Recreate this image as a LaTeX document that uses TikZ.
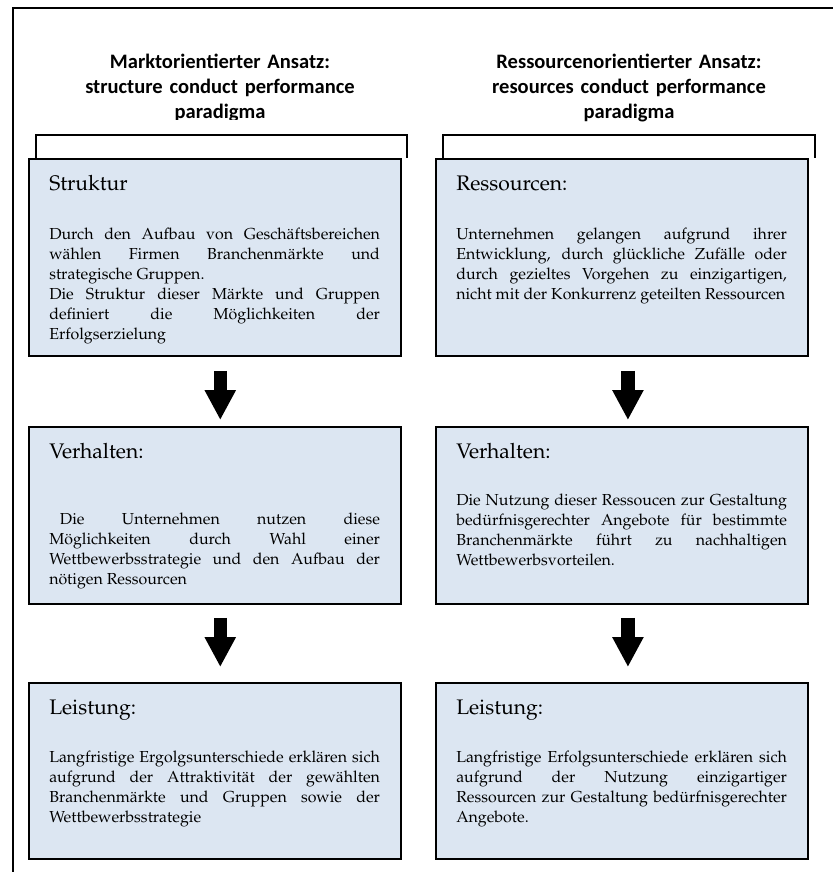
\documentclass[tikz,border=0pt]{standalone}
\usepackage[T1]{fontenc}
\usepackage{fontspec}
\usepackage{tikz}
\usetikzlibrary{arrows.meta,positioning}
\newfontfamily\headfont{Carlito}[BoldFont={Carlito Bold}]
\newcommand\palfont{\fontencoding{T1}\fontfamily{ppl}\selectfont}
\definecolor{boxblue}{RGB}{220,230,242}

\begin{document}
\begin{tikzpicture}[x=0.75pt, y=-0.75pt,
        stufe/.style={draw=black, line width=1.4pt, fill=boxblue, minimum width=279pt, inner sep=0pt, anchor=north west},
        titel/.style={anchor=base west, inner sep=0pt, font=\palfont\fontsize{15.8}{18}\selectfont},
        inhalt/.style={anchor=base west, inner sep=0pt, text width=248pt, align=justify, font=\palfont\fontsize{11.95}{15}\selectfont},
        kopf/.style={anchor=base, inner sep=0pt, text width=260pt, align=center, font=\headfont\bfseries\fontsize{15.4}{19}\selectfont},
        pfeil/.style={line width=10pt, -{Triangle[width=22pt,length=22.5pt]}},
        klammer/.style={line width=2.2pt}]
        \useasboundingbox (0,0) rectangle (833,872);
        \draw[line width=1.5pt] (13,872) -- (13,8) -- (833,8);
        \begin{scope}
            \clip (0,0) rectangle (420,119);
            \node[kopf] (mKopf) at (220,68) {Marktorientierter Ansatz:\\ structure conduct performance\\ paradigma};
        \end{scope}
        \node[kopf] (rKopf) at (629,68) {Ressourcenorientierter Ansatz:\\ resources conduct performance\\ paradigma};
        \draw[klammer] (36,158) -- (36,135) -- (407,135) -- (407,158);
        \draw[klammer] (443,158) -- (443,135) -- (815,135) -- (815,158);
        \node[stufe, minimum height=147.75pt] (mS) at (28,158) {};
        \node[stufe, minimum height=147.75pt] (rS) at (435,158) {};
        \node[stufe, minimum height=132.75pt] (mV) at (28,426) {};
        \node[stufe, minimum height=132.75pt] (rV) at (435,426) {};
        \node[stufe, minimum height=132pt] (mL) at (28,682) {};
        \node[stufe, minimum height=132pt] (rL) at (435,682) {};
        \node[titel] (mStitel) at ([shift={(21,32)}]mS.north west) {Struktur};
        \node[titel] (rStitel) at ([shift={(21,32)}]rS.north west) {Ressourcen:};
        \node[titel] (mVtitel) at ([shift={(21,32)}]mV.north west) {Verhalten:};
        \node[titel] (rVtitel) at ([shift={(21,32)}]rV.north west) {Verhalten:};
        \node[titel] (mLtitel) at ([shift={(21,32)}]mL.north west) {Leistung:};
        \node[titel] (rLtitel) at ([shift={(21,32)}]rL.north west) {Leistung:};
        \node[inhalt] (mStext) at ([shift={(21,81)}]mS.north west) {Durch den Aufbau von Gesch\"aftsbereichen\linebreak w\"ahlen Firmen Branchenm\"arkte und\linebreak strategische Gruppen.\\ Die Struktur dieser M\"arkte und Gruppen\linebreak definiert die M\"oglichkeiten der\linebreak Erfolgserzielung};
        \node[inhalt] (rStext) at ([shift={(21,81)}]rS.north west) {Unternehmen gelangen aufgrund ihrer\linebreak Entwicklung, durch gl\"uckliche Zuf\"alle oder\linebreak durch gezieltes Vorgehen zu einzigartigen,\linebreak nicht mit der Konkurrenz geteilten Ressourcen};
        \node[inhalt] (mVtext) at ([shift={(21,98)}]mV.north west) {\hspace*{8pt}Die Unternehmen nutzen diese\linebreak M\"oglichkeiten durch Wahl einer\linebreak Wettbewerbsstrategie und den Aufbau der\linebreak n\"otigen Ressourcen};
        \node[inhalt] (rVtext) at ([shift={(21,79)}]rV.north west) {Die Nutzung dieser Ressoucen zur Gestaltung\linebreak bed\"urfnisgerechter Angebote f\"ur bestimmte\linebreak Branchenm\"arkte f\"uhrt zu nachhaltigen\linebreak Wettbewerbsvorteilen.};
        \node[inhalt] (mLtext) at ([shift={(21,80)}]mL.north west) {Langfristige Ergolgsunterschiede erkl\"aren sich\linebreak aufgrund der Attraktivit\"at der gew\"ahlten\linebreak Branchenm\"arkte und Gruppen sowie der\linebreak Wettbewerbsstrategie};
        \node[inhalt] (rLtext) at ([shift={(21,80)}]rL.north west) {Langfristige Erfolgsunterschiede erkl\"aren sich\linebreak aufgrund der Nutzung einzigartiger\linebreak Ressourcen zur Gestaltung bed\"urfnisgerechter\linebreak Angebote.};
        \draw[pfeil, shorten <=10.5pt, shorten >=4.5pt] ([xshift=4pt]mS.south) -- ([xshift=4pt]mV.north);
        \draw[pfeil, shorten <=10.5pt, shorten >=4.5pt] ([xshift=4.5pt]rS.south) -- ([xshift=4.5pt]rV.north);
        \draw[pfeil, shorten <=9.75pt, shorten >=11.25pt] ([xshift=4pt]mV.south) -- ([xshift=4pt]mL.north);
        \draw[pfeil, shorten <=9.75pt, shorten >=11.25pt] ([xshift=4.5pt]rV.south) -- ([xshift=4.5pt]rL.north);
\end{tikzpicture}
\end{document}
